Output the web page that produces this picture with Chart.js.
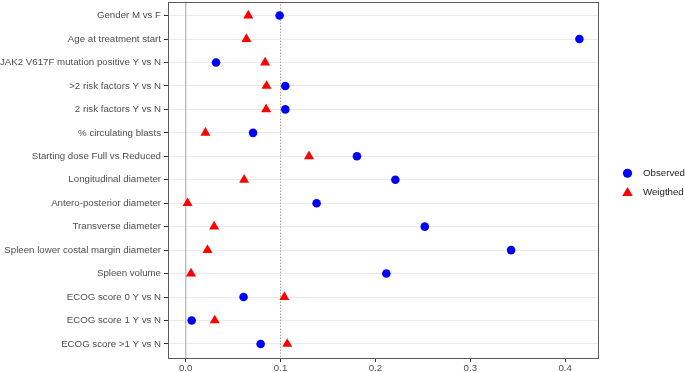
<!DOCTYPE html>
<html>
<head>
<meta charset="utf-8">
<script src="https://cdn.jsdelivr.net/npm/chart.js@4/dist/chart.umd.min.js"></script>
<style>
  html, body { margin: 0; padding: 0; background: #fff; }
  #wrap { width: 685px; height: 372px; position: relative; }
</style>
</head>
<body>
<div id="wrap"><canvas id="c"></canvas></div>
<script>
const categories = [
  "Gender M vs F",
  "Age at treatment start",
  "JAK2 V617F mutation positive Y vs N",
  ">2 risk factors Y vs N",
  "2 risk factors Y vs N",
  "% circulating blasts",
  "Starting dose Full vs Reduced",
  "Longitudinal diameter",
  "Antero-posterior diameter",
  "Transverse diameter",
  "Spleen lower costal margin diameter",
  "Spleen volume",
  "ECOG score 0 Y vs N",
  "ECOG score 1 Y vs N",
  "ECOG score >1 Y vs N"
];
const observed = [0.099, 0.415, 0.032, 0.105, 0.105, 0.071, 0.1805, 0.221, 0.138, 0.252, 0.343, 0.2115, 0.061, 0.0063, 0.079];
const weighted = [0.066, 0.064, 0.0837, 0.0852, 0.0848, 0.0208, 0.130, 0.0616, 0.002, 0.030, 0.023, 0.0056, 0.104, 0.0306, 0.107];
const seriesNames = ["Observed", "Weigthed"];
const xTicks = [0.0, 0.1, 0.2, 0.3, 0.4];
const refLines = [0, 0.1];

const allVals = observed.concat(weighted);
const dMin = Math.min(...allVals), dMax = Math.max(...allVals);
const span = dMax - dMin;
const xMin = dMin - 0.05 * span, xMax = dMax + 0.05 * span;
const yMin = -0.6, yMax = categories.length - 1 + 0.6;

const FONT = "'Liberation Sans', Arial, Helvetica, sans-serif";
const FSIZE = 9.7;
Chart.defaults.font.family = FONT;
Chart.defaults.font.size = FSIZE;
Chart.defaults.color = '#4D4D4D';

const toPts = arr => arr.map((v, i) => ({ x: v, y: i }));

const panelBorder = {
  id: 'panelBorder',
  afterDraw(chart) {
    const { ctx, chartArea: a } = chart;
    ctx.save();
    ctx.strokeStyle = '#5a5a5a';
    ctx.lineWidth = 1;
    ctx.strokeRect(Math.round(a.left) + 0.5, Math.round(a.top) + 0.5,
                   Math.round(a.right - a.left) - 1, Math.round(a.bottom - a.top) - 1);
    ctx.restore();
  }
};

const sideLegend = {
  id: 'sideLegend',
  afterDraw(chart) {
    const { ctx, chartArea: a } = chart;
    const items = chart.data.datasets.filter(d => d.inLegend);
    const mid = (a.top + a.bottom) / 2 + 3;
    const gap = 19;
    const y0 = mid - gap * (items.length - 1) / 2;
    ctx.save();
    items.forEach((d, i) => {
      const y = y0 + i * gap;
      const x = a.right + 28.5;
      ctx.fillStyle = d.backgroundColor;
      ctx.strokeStyle = d.backgroundColor;
      Chart.helpers.drawPoint(ctx, {
        pointStyle: d.pointStyle, radius: d.pointRadius + 0.3, borderWidth: 0, rotation: 0
      }, x, y + (d.pointStyle === 'triangle' ? 0.8 : 0));
      ctx.fillStyle = '#1a1a1a';
      ctx.font = FSIZE + 'px ' + FONT;
      ctx.textBaseline = 'middle';
      ctx.textAlign = 'left';
      ctx.fillText(d.label, a.right + 44, y);
    });
    ctx.restore();
  }
};

const refDatasets = refLines.map((v, i) => ({
  type: 'line',
  label: 'ref' + i,
  data: [{ x: v, y: yMin }, { x: v, y: yMax }],
  borderColor: i === 0 ? '#BEBEBE' : '#8a8a8a',
  borderWidth: i === 0 ? 1 : 0.8,
  borderDash: i === 0 ? [] : [1.5, 1.5],
  pointRadius: 0,
  fill: false,
  order: 10,
  inLegend: false
}));

new Chart(document.getElementById('c'), {
  type: 'scatter',
  data: {
    datasets: [
      ...refDatasets,
      {
        label: seriesNames[0],
        data: toPts(observed),
        backgroundColor: '#0000FF',
        borderColor: '#0000FF',
        borderWidth: 0,
        pointStyle: 'circle',
        pointRadius: 4.3,
        pointHoverRadius: 4.3,
        order: 1,
        inLegend: true
      },
      {
        label: seriesNames[1],
        data: toPts(weighted),
        backgroundColor: '#FF0000',
        borderColor: '#FF0000',
        borderWidth: 0,
        pointStyle: 'triangle',
        pointRadius: 5.8,
        pointHoverRadius: 5.8,
        order: 0,
        inLegend: true
      }
    ]
  },
  options: {
    responsive: true,
    maintainAspectRatio: false,
    animation: false,
    events: [],
    layout: { autoPadding: false, padding: { left: 0, right: 86, top: 1.5, bottom: 0 } },
    plugins: { legend: { display: false }, tooltip: { enabled: false } },
    scales: {
      x: {
        type: 'linear',
        min: xMin,
        max: xMax,
        afterBuildTicks: s => { s.ticks = xTicks.map(v => ({ value: v })); },
        afterFit: s => { s.height = 14; s.paddingLeft = 0; s.paddingRight = 0; },
        ticks: {
          padding: 1,
          color: '#4D4D4D',
          font: { size: FSIZE },
          callback: v => Number(v).toFixed(1),
          maxRotation: 0
        },
        grid: { drawOnChartArea: false, drawTicks: true, tickLength: 4, tickColor: '#333333', tickWidth: 1 },
        border: { display: false }
      },
      y: {
        type: 'linear',
        reverse: true,
        min: yMin,
        max: yMax,
        afterBuildTicks: s => { s.ticks = categories.map((_, i) => ({ value: i })); },
        afterFit: s => { s.width = 168; s.paddingTop = 0; s.paddingBottom = 0; },
        ticks: {
          padding: 3,
          color: '#4D4D4D',
          font: { size: FSIZE },
          autoSkip: false,
          callback: v => categories[v]
        },
        grid: { color: '#EBEBEB', lineWidth: 1, drawTicks: true, tickLength: 4, tickColor: '#333333', tickWidth: 1 },
        border: { display: false }
      }
    }
  },
  plugins: [panelBorder, sideLegend]
});
</script>
</body>
</html>
